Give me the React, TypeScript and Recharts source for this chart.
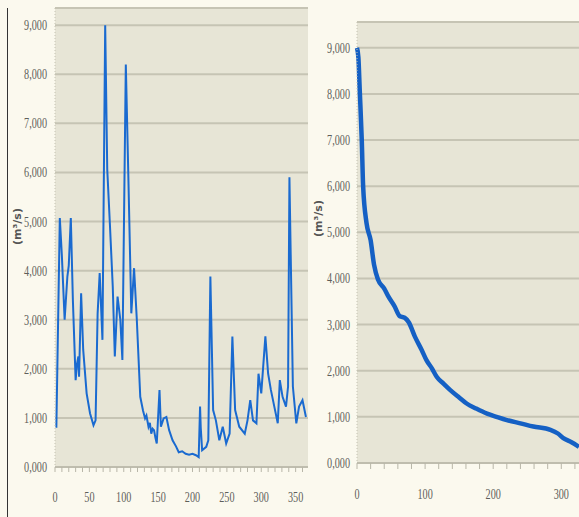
import { LineChart, Line, XAxis, YAxis, CartesianGrid } from 'recharts';

// daily discharge, one year (left panel)
const flowDays = [1, 2, 7, 10, 14, 18, 20, 23, 26, 30, 32, 34, 35, 38, 41, 46, 51, 56, 59, 62, 65, 69, 73, 76, 80, 84, 87, 91, 95, 98, 103, 107, 111, 115, 119, 124, 128, 131, 133, 136, 138, 140, 142, 144, 146, 148, 152, 154, 158, 162, 166, 171, 176, 180, 185, 190, 195, 200, 205, 209, 211, 212, 214, 220, 223, 226, 230, 234, 239, 244, 249, 254, 258, 262, 268, 276, 280, 284, 288, 293, 296, 300, 306, 310, 314, 319, 324, 327, 331, 336, 339, 341, 346, 351, 355, 360, 365];
const flowValues = [820, 820, 5070, 4300, 3000, 3880, 4100, 5070, 3400, 1770, 2100, 2250, 1840, 3540, 2390, 1500, 1090, 850, 950, 3130, 3950, 2590, 9000, 6060, 4900, 3680, 2250, 3470, 3000, 2180, 8200, 5720, 3130, 4050, 3000, 1430, 1150, 990, 1050, 820, 900, 680, 780, 750, 600, 480, 1570, 820, 990, 1020, 750, 545, 420, 300, 320, 270, 250, 270, 240, 200, 1230, 800, 340, 410, 545, 3880, 1160, 950, 545, 820, 480, 680, 2660, 1160, 820, 680, 950, 1360, 950, 890, 1900, 1500, 2660, 1900, 1570, 1230, 890, 1770, 1430, 1230, 1640, 5900, 1640, 890, 1230, 1360, 1020];

// flow duration curve (right panel)
const durDays = [0, 2, 4, 7, 9, 14, 20, 25, 31, 40, 46, 55, 63, 70, 76, 85, 95, 102, 110, 117, 127, 137, 150, 161, 175, 191, 205, 220, 240, 259, 284, 295, 303, 315, 326];
const durValues = [9000, 8800, 8090, 7000, 6000, 5200, 4830, 4300, 3970, 3780, 3610, 3400, 3180, 3150, 3050, 2740, 2450, 2230, 2050, 1870, 1720, 1580, 1420, 1290, 1180, 1070, 1000, 930, 860, 790, 720, 640, 540, 450, 350];

const yTicks = [0, 1000, 2000, 3000, 4000, 5000, 6000, 7000, 8000, 9000];
const leftXTicks = [0, 10, 20, 30, 40, 50, 60, 70, 80, 90, 100, 110, 120, 130, 140, 150, 160, 170, 180, 190, 200, 210, 220, 230, 240, 250, 260, 270, 280, 290, 300, 310, 320, 330, 340, 350, 360];
const rightXTicks = [0, 20, 40, 60, 80, 100, 120, 140, 160, 180, 200, 220, 240, 260, 280, 300, 320];

const flowData = flowDays.map((d, i) => ({ day: d, q: flowValues[i] }));
const durData = durDays.map((d, i) => ({ day: d, q: durValues[i] }));

const BG = '#fbf9ee';
const PLOT = '#e7e5d6';
const GRID = '#c6c4b4';
const TXT = '#5e5e5a';

const fmtY = (v: number) => (v === 0 ? '0,000' : v.toLocaleString('en-US'));

// narrow serif tick labels like the original
const Tick = (props: any) => {
  const { x, y, payload, anchor, every, dy } = props;
  const v = payload.value;
  let text = '';
  if (anchor === 'end') text = fmtY(v);
  else if (v % every === 0) text = String(v);
  if (!text) return null;
  return (
    <g transform={`translate(${x},${y})`}>
      <text
        transform="scale(0.68,1)"
        textAnchor={anchor}
        dy={dy}
        fill={TXT}
        fontSize={15}
        fontFamily="Liberation Serif, DejaVu Serif, serif"
      >
        {text}
      </text>
    </g>
  );
};

const UnitLabel = ({ left, top }: { left: number; top: number }) => (
  <div
    style={{
      position: 'absolute',
      left,
      top,
      transform: 'rotate(-90deg)',
      transformOrigin: 'center',
      fontFamily: 'DejaVu Sans, sans-serif',
      fontSize: 11,
      fontWeight: 'bold',
      color: '#555',
      whiteSpace: 'nowrap',
      width: 50,
      textAlign: 'center',
    }}
  >
    (m³/s)
  </div>
);

export default function App() {
  return (
    <div style={{ position: 'absolute', left: 0, top: 0, width: 579, height: 517, background: BG, overflow: 'hidden' }}>
      <div style={{ position: 'absolute', left: 7, top: 8, width: 1, height: 509, background: '#333' }} />
      <UnitLabel left={-8} top={220} />
      <UnitLabel left={293} top={212} />

      <div style={{ position: 'absolute', left: 0, top: 0 }}>
        <LineChart width={320} height={517} data={flowData} margin={{ top: 8, right: 12, left: 0, bottom: 0 }}>
          <CartesianGrid vertical={false} fill={PLOT} stroke={GRID} strokeWidth={2} />
          <XAxis
            type="number"
            dataKey="day"
            domain={[0, 368]}
            ticks={leftXTicks}
            height={50}
            tickSize={5}
            tickMargin={2}
            stroke="#b8b6a8"
            tick={<Tick anchor="middle" every={50} dy={28} />}
            interval={0}
          />
          <YAxis
            type="number"
            domain={[0, 9350]}
            ticks={yTicks}
            width={55}
            tickSize={0}
            tickMargin={8}
            axisLine={{ stroke: '#c4c2b2', strokeDasharray: '1 2' }}
            tick={<Tick anchor="end" dy={5} />}
            interval={0}
          />
          <Line
            type="linear"
            dataKey="q"
            stroke="#1a6ad0"
            strokeWidth={2}
            dot={false}
            isAnimationActive={false}
          />
        </LineChart>
      </div>

      <div style={{ position: 'absolute', left: 300, top: 0 }}>
        <LineChart width={279} height={517} data={durData} margin={{ top: 22, right: 0, left: 0, bottom: 0 }}>
          <CartesianGrid vertical={false} fill={PLOT} stroke={GRID} strokeWidth={2} />
          <XAxis
            type="number"
            dataKey="day"
            domain={[0, 326]}
            ticks={rightXTicks}
            height={54}
            tickSize={6}
            tickMargin={2}
            stroke="#b8b6a8"
            tick={<Tick anchor="middle" every={100} dy={28} />}
            interval={0}
          />
          <YAxis
            type="number"
            domain={[0, 9560]}
            ticks={yTicks}
            width={57}
            tickSize={0}
            tickMargin={7}
            axisLine={{ stroke: '#c4c2b2', strokeDasharray: '1 2' }}
            tick={<Tick anchor="end" dy={5} />}
            interval={0}
          />
          <Line
            type="monotone"
            dataKey="q"
            stroke="#1560c4"
            strokeWidth={4.5}
            dot={false}
            isAnimationActive={false}
          />
        </LineChart>
      </div>
    </div>
  );
}
